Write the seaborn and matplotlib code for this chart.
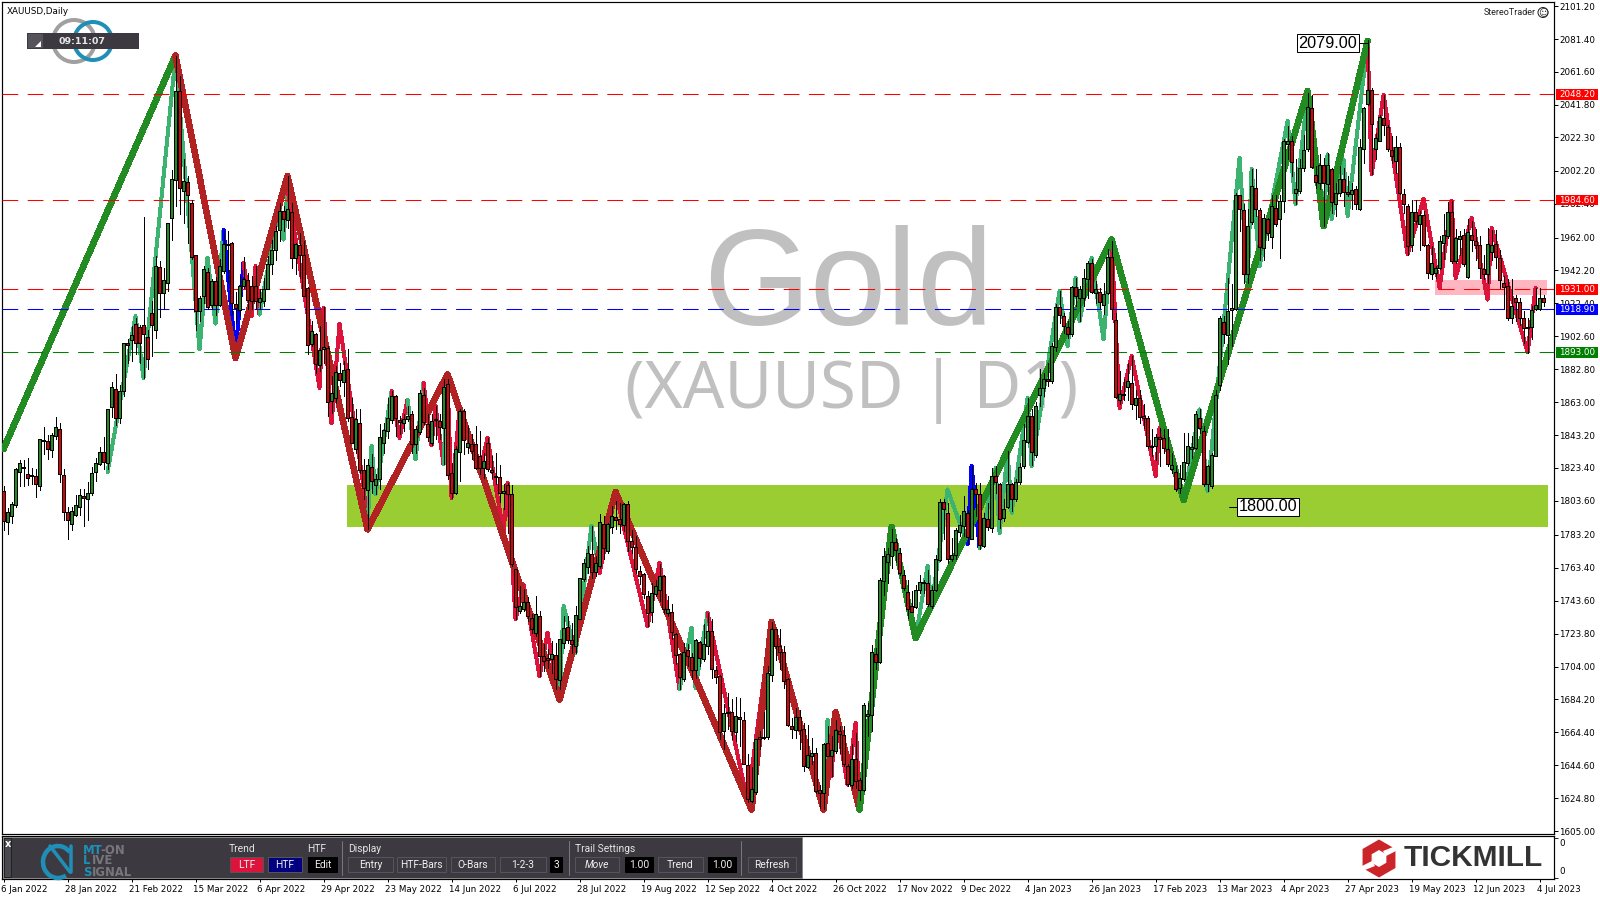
import numpy as np
import matplotlib
matplotlib.use("Agg")
import matplotlib.pyplot as plt
import matplotlib.transforms as mtrans
from matplotlib.patches import Rectangle, RegularPolygon, Polygon, Arc, Circle
import seaborn as sns

# ---------------- candle data (USD) ----------------
opens = [
1809.4,1791,1794.4,1801,1821,1824,1819.7,1819.3,1818.7,1812.7,
1840.4,1839.7,1834.3,1842.8,1847,1819.3,1797,1789.8,1795.2,1800,
1806.6,1804.8,1808.2,1821,1825.9,1833.1,1826.5,1860.2,1871,1853.6,
1869.8,1898.7,1900.3,1909.9,1908.3,1909.5,1902.3,1916.7,1906.5,1944.4,
1928.8,1934.8,1973.9,1996.9,2050,1990,1995.5,1982.9,1951.8,1917.7,
1926.9,1941.5,1921.3,1936.1,1921.3,1942,1958.2,1958.8,1922,1918.3,
1932.8,1936.6,1932.8,1933,1923.2,1923.8,1931.2,1946.2,1954.4,1966.5,
1978.1,1972.4,1977.5,1949.7,1957.7,1951.7,1931.8,1897.9,1904.1,1885.5,
1894.7,1895.7,1863.6,1865.4,1880.8,1875.2,1883,1854.2,1835,1850.6,
1822.1,1810.1,1824.1,1813.3,1816.5,1838.6,1845.6,1852.4,1866.8,1852.4,
1850.4,1853,1856,1837.6,1845.2,1867.4,1849.6,1838.6,1853,1851.8,
1847.4,1874.1,1820.1,1808.1,1833.1,1857.8,1836,1838,1838,1830.6,
1823.3,1838.2,1822.3,1818.7,1817.7,1808.1,1812.9,1807.9,1762.8,1737.5,
1738.3,1742.9,1732.9,1724.3,1734.1,1710.5,1709.3,1708.3,1710.7,1695.9,
1717.9,1727.9,1719.7,1716.3,1732.7,1756.4,1764,1771.8,1760.8,1764.4,
1789.8,1773.6,1787.8,1794.1,1792.5,1789.4,1802,1779.4,1776,1761.5,
1759.5,1746.3,1736.7,1747.7,1750.3,1758.7,1735.9,1736.9,1723.3,1711.3,
1696.3,1713.7,1709.5,1702.1,1718.5,1708.5,1716.1,1725.1,1701.7,1698.1,
1665.5,1675.9,1676.5,1664.9,1673.5,1671.9,1644.9,1622.9,1628.5,1661.3,
1660.7,1661.5,1699,1726.3,1716.2,1713,1696.6,1668.5,1666.1,1673.9,
1666.5,1643.7,1650.1,1652.1,1629.6,1628,1658.1,1650.1,1653.1,1665.1,
1662.7,1644.1,1633,1648.5,1636,1629.6,1674.1,1675.1,1711.8,1706.6,
1755.3,1766.8,1770.4,1779,1772.4,1759.1,1748.9,1740.3,1739.7,1749.9,
1754.3,1754.3,1740.3,1749.9,1768,1803,1796.4,1768.8,1770.8,1784.8,
1788.8,1796.4,1780.8,1810.9,1807.5,1776.4,1792.5,1787.4,1818.3,1813.9,
1793.1,1800,1813.9,1804.5,1814.9,1824.9,1839,1854.6,1831,1867.6,
1871.6,1877,1875.6,1896.3,1920.2,1914.8,1908.3,1904.3,1932.2,1925.6,
1925.8,1937.2,1946.8,1928.4,1929.4,1921.2,1928.8,1950.4,1912.2,1864.6,
1867.8,1872.2,1874.8,1861.4,1865.6,1854.6,1853.6,1836.6,1836.6,1841.8,
1841.6,1834.6,1822.5,1820.9,1811.5,1816.5,1826.5,1835,1835.6,1853.6,
1845.6,1813.5,1812.5,1830.9,1873.6,1911.3,1903.7,1918.7,1919.1,1987.9,
1978.3,1939.8,1971.5,1991.9,1978.5,1955.8,1972.9,1962.5,1979.9,1972.9,
1983.9,2018.4,2020.2,1989,1990,2003.6,2015,2040,1999.4,1995,
2005.4,1994,2003,1982,1989,1997,1989.6,1988,1991,1979.3,
2015.4,2042.5,2050.5,2015.4,2020.2,2034.2,2028.8,2014.6,2008,2016.6,
1988.5,1981,1957.4,1977.1,1969.9,1975.3,1957.3,1940.3,1940.5,1943.9,
1958.9,1962.9,1977.5,1947.9,1961.3,1963.3,1938.3,1963.8,1959.8,1957.4,
1943.2,1940.2,1953.2,1958.2,1949.8,1934.8,1932.8,1913.7,1925.7,1923.3,
1913.7,1908.3,1908.1,1919.1,1919.1,1925.7]

closes = [
1791.4,1797,1802,1822.5,1826.5,1823.3,1817.3,1818.5,1813.9,1841,
1839.6,1834.9,1843.4,1848.2,1819.9,1797,1792.2,1797.6,1801.2,1807.2,
1805.4,1808.4,1820.5,1826.5,1833.1,1827.1,1859,1872.2,1853.6,1869.8,
1898.7,1897.5,1903.5,1898.7,1898.7,1904.1,1889,1909.5,1945,1928.6,
1936.6,1970.9,1997.3,2050,1991.9,1996,1987.7,1950.4,1918.1,1925.7,
1942.9,1920.5,1935.9,1921.3,1945,1958.2,1957.6,1922.9,1919.4,1933,
1937.2,1924.2,1923.8,1923.8,1925.8,1931.2,1946.2,1954.4,1965.9,1978.1,
1973,1978.9,1949.7,1958,1951.7,1926.9,1897.3,1905.9,1886.1,1894.5,
1896.3,1863,1868.6,1881.2,1876.6,1882.4,1853.6,1838.6,1852.6,1822.1,
1811.3,1825.3,1815.3,1816.9,1842.2,1846.4,1853.4,1866.6,1853.6,1851.2,
1853,1854.8,1838,1847,1868.6,1851,1842,1851.8,1852.2,1848.2,
1871.9,1819.1,1808.3,1834.6,1857.8,1840.4,1838.6,1833.6,1823.5,1823.3,
1827.7,1822.5,1820.9,1817.9,1808.1,1809.3,1807.7,1765.4,1739.8,1740.5,
1742.9,1734.3,1726.7,1735.7,1710.3,1707.1,1708.1,1711.7,1696.3,1720.3,
1727.3,1719.7,1717.5,1734.9,1757,1766.4,1772.4,1760.8,1766.4,1791,
1775,1790,1794.7,1792.1,1789.9,1802,1779.4,1776,1762.8,1758.5,
1747.7,1736.3,1748.3,1752.3,1758.3,1738.3,1738.3,1724.9,1710.9,1697.7,
1712.9,1710.5,1702.1,1719.7,1709.1,1717.5,1725.1,1702.5,1697.7,1664.9,
1675.9,1676.5,1665.5,1674.1,1672.3,1645.5,1624.5,1630.1,1660.4,1660.1,
1661.5,1700.2,1726.7,1716.2,1712.6,1695.2,1668.7,1666.3,1673.9,1666.1,
1644.4,1650.7,1652.1,1629,1628,1657.5,1650.1,1653.5,1665.9,1663.1,
1645.1,1633.6,1648.5,1635,1629.6,1681.1,1675.5,1712.8,1706.6,1756.3,
1770.6,1771.8,1779,1774.2,1760.3,1751.3,1738.7,1736.7,1750.1,1754.9,
1754.9,1741.7,1750.1,1768.8,1803,1798.8,1768.4,1771.2,1786.4,1789.4,
1797.4,1781.8,1810.9,1807.9,1776.8,1793.5,1787.9,1818.3,1814.9,1792.9,
1798.9,1813.9,1804.9,1815.1,1824.1,1840.3,1854.6,1833.2,1860.6,1871.4,
1877,1875.6,1896.7,1920.2,1915.4,1908.9,1904.1,1932.2,1926.8,1931.2,
1937.8,1946.8,1929.2,1930.8,1923.2,1928.2,1950.4,1919.2,1866.1,1868.2,
1867.2,1875.6,1861.6,1865.6,1854.2,1853.4,1836.6,1836,1842.2,1841,
1835.6,1825.9,1825.5,1810.9,1817.5,1827.1,1836.6,1836.2,1855.6,1847.6,
1813.5,1824.9,1831.5,1867.6,1913.7,1904.1,1917.7,1919.7,1987.9,1979.3,
1940.2,1968.9,1992.9,1978.9,1956.4,1973.9,1964.9,1980.9,1969.9,1983.9,
2020,2020,2007.4,1991.4,2004,2014.6,2040.4,2004.4,1995.4,2005.4,
1995,2005.4,1983.3,1989,1997,1989.4,1988.2,1990.4,1982.3,2016.6,
2040,2050.5,2030.6,2021.6,2034.6,2029.6,2015,2011,2016.6,1989,
1982.3,1957,1977.5,1971.9,1975.3,1957.3,1940.5,1946.9,1943.5,1959.7,
1963.3,1977.5,1947.9,1961.9,1962.9,1945.9,1965.4,1960.4,1957.4,1943.8,
1940.2,1958.2,1957.8,1950.2,1936.2,1932.4,1913.7,1920.7,1923.1,1913.7,
1907.7,1907.5,1918.7,1921.5,1925.7,1923.5]

highs = [
1812.5,1799.4,1802.8,1823.5,1828.5,1828.5,1829.5,1823.5,1822.5,1841,
1848.2,1843.4,1844.2,1854.2,1850.6,1822.5,1800,1800,1807.4,1810.7,
1810.5,1814.9,1824.1,1829.5,1836.1,1842.1,1859,1875,1880.2,1873.4,
1898.7,1900.7,1908.7,1913.7,1909.7,1974.5,1906.3,1923.7,1950.8,1947.8,
1943.8,1970.9,2002.9,2071,2059,2009,1999.3,1984.9,1951.8,1927,
1944.9,1943.9,1936.9,1938.5,1948.9,1965.9,1965.9,1959.2,1929.2,1938.8,
1950.4,1940.4,1938.8,1944.9,1930.8,1937.9,1950.8,1960.8,1968.9,1982.9,
1981,1999,1982.5,1958.8,1964.9,1959.9,1932.4,1911.7,1904.7,1908.7,
1920.1,1896.7,1878.6,1884.6,1886.6,1887.6,1894.7,1865.6,1858.6,1859,
1829,1829.1,1831.6,1819.5,1849.6,1850.6,1865.6,1869.6,1867.6,1854.6,
1855.6,1860.6,1857.6,1848.6,1870.6,1871.6,1855.6,1855.6,1860.6,1855.6,
1876.7,1876.7,1826.5,1836.6,1858.6,1858.6,1848.6,1843.6,1848.6,1845.6,
1832.6,1841.6,1830.6,1832.6,1825.5,1813.5,1814.5,1812.9,1762.8,1752.4,
1750.4,1746,1735.3,1746.3,1737.3,1717.3,1714.3,1719.3,1718.3,1720.7,
1734.3,1734.3,1730.3,1740.3,1757.4,1768.4,1776.4,1788.8,1770.4,1795.5,
1794.5,1790.4,1800.5,1803.5,1802.5,1802.4,1803.5,1786,1782.4,1764.4,
1760.4,1749.3,1754.3,1756.3,1765.9,1759.3,1746.3,1741.3,1724.3,1712.3,
1718.3,1717.3,1712.3,1720.5,1719.5,1729.3,1736.3,1732.3,1704.3,1698.9,
1681.3,1688.3,1684.3,1685.7,1685.3,1676.5,1651.5,1643.3,1660.4,1665.3,
1676.5,1704.2,1730.7,1726.7,1726.3,1716.2,1697.2,1673.1,1679.1,1678.1,
1670.1,1669.1,1661.1,1655.1,1633,1658.1,1668.1,1662.1,1672.1,1668.1,
1668.1,1645.1,1657.1,1664.1,1637,1682.1,1682.1,1717.2,1715.2,1757.3,
1775.4,1775.4,1786.8,1781.4,1775.4,1762.3,1756.3,1749.3,1753.3,1759.3,
1756.3,1762.3,1752.3,1770.8,1804.5,1804.5,1802.5,1781.4,1787.4,1795.4,
1806.5,1798.4,1824.9,1814.5,1814.5,1796.5,1802.5,1823.5,1824.5,1814.5,
1804.5,1833.5,1814.5,1816.5,1826.5,1849.6,1865.6,1858.6,1863,1882.7,
1880.7,1886.7,1898.7,1921.8,1929.8,1916.8,1911.8,1932.8,1937.8,1932.8,
1942.8,1947.8,1949.2,1935.8,1931.8,1934.8,1954.9,1959.9,1916.8,1881.7,
1876.7,1886.7,1890.7,1870.6,1870.6,1861.6,1854.6,1846.6,1843.6,1847.6,
1846.6,1846.6,1832.5,1824.5,1825.5,1844.6,1844.6,1842.6,1857.6,1858.6,
1848.6,1825.5,1832.5,1870.6,1914.7,1914.7,1937.7,1933.8,1988.9,1987.9,
1981.9,1978.9,2003.4,2003.4,1979.9,1975.9,1973.9,1987.9,1987.9,1987.9,
2021,2029,2023,2009,2009,2024,2049,2048,2005,2012,
2010,2013,2004,1995,2005,2004,1999,1995,1993,2021,
2040.6,2080.8,2052,2025,2036,2048,2030,2023,2023,2019,
1991,1982,1984.9,1984.9,1977.9,1977.9,1957.9,1956.9,1944.9,1962.9,
1975.9,1983.3,1983.9,1966.9,1965.9,1966.9,1972.9,1971.9,1966.9,1962.8,
1951.8,1967.8,1966.8,1966.8,1954.8,1938.8,1936.8,1936.8,1927.7,1925.7,
1917.7,1913.7,1920.7,1931.7,1931.7,1927.7]

lows = [
1786.4,1783.4,1790.4,1800,1812.5,1812.5,1812.9,1813.5,1806,1810,
1832.1,1828.9,1830.1,1840.6,1814.9,1792,1780.4,1786.4,1794.4,1795.4,
1788.8,1792.4,1807.4,1815.5,1825.5,1822.9,1822.5,1854.2,1849.4,1850.6,
1866.6,1886.7,1887.7,1891.7,1886.7,1877.6,1883,1890.7,1901.7,1914.3,
1918.8,1929.8,1960.8,1980.9,1975.9,1970.8,1958.8,1949,1906.7,1912,
1922.9,1918.9,1918.9,1915.3,1920.9,1940.9,1934.9,1915.9,1910.9,1915.7,
1931.8,1918.9,1918.9,1918.9,1918.9,1920.9,1930.8,1939.9,1948.8,1959.8,
1965.9,1967.9,1943.8,1939.8,1937.8,1926.9,1891.7,1896.7,1880.7,1881.7,
1886.7,1854.6,1856.6,1862.6,1872.6,1866.6,1851.6,1838.6,1832.6,1820.5,
1804.5,1786.5,1808.5,1807.5,1810.5,1832.6,1841.6,1850.6,1842.6,1843.6,
1845.6,1851.6,1832.6,1832.6,1843.6,1849.6,1839.6,1837,1840.6,1840.6,
1825.6,1816.5,1805.5,1807.5,1815.5,1831.6,1832.6,1828.6,1822.5,1819.5,
1817.5,1821.5,1817.5,1813.5,1802.9,1798.5,1784.5,1764.4,1732.3,1736.3,
1737.3,1731.3,1724.3,1722.3,1698.3,1701.3,1703.3,1700.3,1690.3,1690.3,
1715.3,1718.3,1712.3,1712.3,1732.3,1755.4,1760.4,1757.4,1758.4,1763.4,
1768.4,1772.4,1784.5,1786.5,1784.5,1785.4,1773.4,1772.4,1760.4,1753.4,
1745.3,1728.3,1730.7,1746.3,1743.3,1736.3,1734.3,1720.3,1705.3,1690.3,
1695.3,1704.3,1696.3,1697.3,1704.3,1707.3,1711.3,1697.3,1694.3,1660.3,
1654.3,1666.3,1660.3,1659.3,1656.3,1645.5,1622.5,1622.5,1627.5,1654.3,
1660.3,1660.3,1695.2,1708.2,1702.2,1691.2,1668.1,1661.1,1661.1,1654.1,
1641.1,1643.1,1645.1,1628,1619,1618,1650.1,1638,1652.1,1652.1,
1644.1,1632,1631,1631,1624,1629,1662.1,1665.1,1702.2,1706.2,
1747.3,1754.3,1763.4,1766.8,1759.3,1750.3,1733.3,1736.7,1739.3,1748.3,
1748.3,1740.3,1739.3,1749.3,1767.4,1780.4,1766,1767.4,1768.4,1782.4,
1782.4,1777.4,1780.4,1794.5,1774.4,1776,1786.4,1784.8,1808.5,1787.4,
1791.5,1799.5,1797.5,1803.5,1813.5,1823.5,1838.6,1825.5,1830.2,1860.6,
1866.6,1873,1874.6,1893.7,1910.8,1904.8,1901.7,1902.7,1920.8,1911.8,
1920.8,1925.8,1928.8,1922.8,1919.8,1915.8,1927.8,1912.8,1865.6,1861.6,
1864.6,1864.6,1858.6,1852.6,1850.6,1847.6,1835.6,1830.5,1828.5,1824.5,
1832.5,1824.5,1820.5,1809.5,1808.5,1815.5,1825.5,1829.5,1834.6,1844.6,
1812.5,1809.5,1811.5,1830.5,1870.6,1898.7,1885.7,1896.7,1918.7,1965.9,
1934.8,1934.8,1969.9,1974.9,1948.8,1948.8,1960.8,1955.8,1968.9,1949.8,
1977.3,2009,1999,1981.9,1989,2002,2014,2004,1992,1991,
1969,1988,1977,1975,1987,1981,1987,1979,1979,1978.5,
2007,2042,2000,2009,2020,2024,2014,2007,2001,1988,
1977,1951.8,1953.8,1969.9,1954.4,1956.9,1937.9,1936.9,1937.9,1942.9,
1948.9,1961.9,1946.9,1946.9,1951.8,1944.9,1937.9,1953.8,1948.8,1937.8,
1936.8,1934.8,1948.8,1943.8,1931.8,1918.8,1912.7,1910.7,1911.7,1909.7,
1898.7,1892.7,1900.7,1918.7,1918.7,1920.7]

# ---------------- zigzag pivots: bar number, price, state of segment ending there ----------------
htf_bars   = [0, 43, 58, 71, 91, 111, 139, 153, 187, 192, 205, 208, 214, 222, 228, 277, 295, 326, 330, 341]
htf_prices = [1834.9, 2071.5, 1889.6, 1999, 1786.5, 1879.7, 1684.2, 1808.9, 1618, 1730.7, 1618, 1676.5, 1618,
              1788, 1721.2, 1960.9, 1804.1, 2050.1, 1969, 2080.2]
htf_states = ["", "up", "down", "down", "down", "down", "down", "down", "down", "down", "down", "down", "down",
              "up", "up", "up", "up", "up", "up", "up"]

ltf_bars = [26,33,35,43,49,51,53,55,58,60,62,63,64,69,70,71,79,80,82,84,90,91,92,93,97,99,101,103,105,107,108,110,111,
            112,114,119,121,125,126,128,130,134,136,139,140,143,147,149,153,161,164,169,172,173,176,186,192,205,206,207,
            208,211,213,214,222,228,231,232,236,241,242,244,248,249,251,252,256,257,264,266,268,269,272,275,277,279,282,
            288,289,295,299,301,309,311,312,314,321,323,326,330,331,332,335,336,341,342,345,351,355,359,362,363,367,371,
            372,381,383]
ltf_prices = [1820.9,1914.7,1877.6,2071,1894.7,1949.8,1910.3,1966.5,1892.7,1946.8,1914.7,1944.8,1915.7,1982,1960.8,1990.9,
              1871.6,1919.7,1850.2,1910.3,1812.5,1786.5,1836.6,1807.5,1869.6,1841.6,1864.6,1828.6,1874.7,1837,1860.6,
              1825.6,1876.7,1805.5,1858.6,1820.5,1841.6,1784.5,1814.5,1732.3,1753.4,1698.2,1724.3,1684.2,1740.3,1712.3,
              1788.8,1760.4,1808.5,1728.3,1766.4,1690.3,1727.3,1691.2,1736.3,1622.5,1730.7,1618,1672.1,1638,1676.5,1633,
              1670.1,1622,1788,1721.2,1764.4,1740.3,1810.5,1777.4,1824.9,1775.4,1823.5,1784.4,1833.5,1796.5,1865.6,1824.5,
              1929.8,1896.7,1937.8,1911.7,1949.8,1900.7,1959.9,1859.6,1890.7,1818.5,1847.6,1804,1858.6,1809.5,2010,1934,
              2003.4,1944.8,2032,1982,2049,1969,2012,1973,2009,1975,2080,2000,2048,1952,1985.3,1931.7,1983.9,1937.7,1973.8,
              1924.7,1967.8,1893,1931.7]
ltf_states = ["","G","G","G","G","G","G","G","B","B","R","R","R","G","G","G","R","R","R","R","R","R","G","G","G","R","R",
              "G","G","R","R","R","G","R","R","R","R","R","R","R","R","R","R","R","G","G","G","G","R","R","R","R","G","G",
              "G","R","R","R","G","G","R","R","R","R","G","G","G","G","G","G","B","B","G","G","G","G","G","G","G","G","G",
              "G","G","G","G","R","R","R","R","R","G","G","G","G","G","G","G","G","G","G","G","G","G","G","G","R","R","R",
              "R","R","R","R","R","R","R","R","R"]

# ---------------- levels and labels ----------------
level_prices = [2048.20, 1984.60, 1931.00, 1918.90, 1893.00]
level_kinds  = ["res", "res", "res", "mid", "sup"]
zone_gold = (1787.8, 1812.9)
zone_gold_bars = (85.9, 386.2)
zone_pink = (1927.7, 1936.7)
zone_pink_bars = (357.9, 385.9)
price_ticks = [2101.20,2081.40,2061.60,2041.80,2022.30,2002.20,1982.40,1962.00,1942.20,1922.40,1902.60,1882.80,1863.00,
               1843.20,1823.40,1803.60,1783.20,1763.40,1743.60,1723.80,1704.00,1684.20,1664.40,1644.60,1624.80,1605.00]
date_labels = ["6 Jan 2022","28 Jan 2022","21 Feb 2022","15 Mar 2022","6 Apr 2022","29 Apr 2022","23 May 2022",
               "14 Jun 2022","6 Jul 2022","28 Jul 2022","19 Aug 2022","12 Sep 2022","4 Oct 2022","26 Oct 2022",
               "17 Nov 2022","9 Dec 2022","4 Jan 2023","26 Jan 2023","17 Feb 2023","13 Mar 2023","4 Apr 2023",
               "27 Apr 2023","19 May 2023","12 Jun 2023","4 Jul 2023"]
date_every = 16

# ---------------- styling ----------------
sns.set_theme(style="white")
plt.rcParams["font.family"] = ["DejaVu Sans"]
W, H = 1600, 900
PX = 0.72  # one pixel in points at dpi 100
fig = plt.figure(figsize=(16, 9), dpi=100, facecolor="white")

def box(l, t, r, b):
    return [l / W, 1 - b / H, (r - l) / W, (b - t) / H]

ax = fig.add_axes(box(2, 2, 1554, 834))
ax2 = fig.add_axes(box(2, 836, 1554, 879))
top = fig.add_axes([0, 0, 1, 1], zorder=20)
top.set_xlim(0, W); top.set_ylim(H, 0); top.axis("off"); top.patch.set_alpha(0)

for a in (ax, ax2):
    a.set_facecolor("white")
    a.set_xlim(-0.375, 387.6)
    for s in a.spines.values():
        s.set_color("black"); s.set_linewidth(PX * 1.2)
ax.set_ylim(1603.25, 2103.7)

# zones
ax.add_patch(Rectangle((zone_gold_bars[0], zone_gold[0]), zone_gold_bars[1] - zone_gold_bars[0],
                       zone_gold[1] - zone_gold[0], color="#9ACD32", lw=0, zorder=1))
ax.add_patch(Rectangle((zone_pink_bars[0], zone_pink[0]), zone_pink_bars[1] - zone_pink_bars[0],
                       zone_pink[1] - zone_pink[0], color="#FFB6C1", lw=0, zorder=1))

# watermarks
ax.text(848 / W, 1 - 325 / H, "Gold", transform=fig.transFigure, family="Liberation Sans", fontsize=99,
        color="#C0C0C0", ha="center", va="baseline", zorder=2)
ax.text(852 / W, 1 - 408 / H, "(XAUUSD | D1)", transform=fig.transFigure, family="Noto Sans", fontsize=47,
        color="#C0C0C0", ha="center", va="baseline", zorder=2)

# zigzags
def zigzag(bars, prices, states, palette, width, z):
    start = 0
    for k in range(1, len(bars) + 1):
        if k == len(bars) or (k > 1 and states[k] != states[start + 1]):
            sns.lineplot(x=bars[start:k], y=prices[start:k], ax=ax, sort=False, estimator=None,
                         color=palette[states[start + 1]], linewidth=width, legend=False, zorder=z,
                         antialiased=False)
            start = k - 1

zigzag(ltf_bars, ltf_prices, ltf_states, {"G": "#3CB371", "R": "#DC143C", "B": "#0000FF"}, 3.0 * PX, 3)
zigzag(htf_bars, htf_prices, htf_states, {"up": "#228B22", "down": "#B22222"}, 5.5 * PX, 4)

# horizontal levels
kind_col = {"res": "#FF0000", "mid": "#0000FF", "sup": "#008000"}
for p, k in zip(level_prices, level_kinds):
    ax.axhline(p, color=kind_col[k], lw=PX * 1.05, dashes=(15, 9), zorder=5, snap=True)

# candles
x = np.arange(len(closes))
o, c, h, l = map(np.array, (opens, closes, highs, lows))
ax.vlines(x, l, h, color="black", lw=PX, zorder=6, antialiased=False)
ax.bar(x, np.abs(c - o), bottom=np.minimum(o, c), width=0.6,
       color=np.where(c >= o, "#228B22", "#E00000"), edgecolor="black", linewidth=PX, zorder=7, antialiased=False)

# price axis
ax.yaxis.tick_right()
ax.set_yticks(price_ticks)
ax.set_yticklabels([f"{v:.2f}" for v in price_ticks])
ax.set_xticks([])
ax.tick_params(axis="y", which="major", right=True, length=4 * PX, width=PX, pad=1, labelsize=6.3, colors="black")

# value tags
tr = mtrans.blended_transform_factory(fig.transFigure, ax.transData)
tag_fill = {"res": "#FF0000", "mid": "#0000FF", "sup": "#008000"}
for p, k in zip(level_prices, level_kinds):
    ax.add_patch(Rectangle((1556 / W, p - 3.3), 42 / W, 6.6, transform=tr, color=tag_fill[k], lw=0,
                           clip_on=False, zorder=10))
    ax.text(1577 / W, p, f"{p:.2f}", transform=tr, color="white", fontsize=6.3, ha="center", va="center",
            clip_on=False, zorder=11)

# price boxes
for bar, price, lbar0, lbar1 in [(331, 2079.0, 338.6, 341.0), (316.2, 1800.0, 306.4, 308.9)]:
    ax.plot([lbar0, lbar1], [price, price], color="black", lw=PX, zorder=8)
    ax.text(bar, price, f"{price:.2f}", family="Liberation Sans", fontsize=11.7, color="black", ha="center",
            va="center", zorder=9, bbox=dict(facecolor="white", edgecolor="black", linewidth=PX, pad=1.2))

# lower strip: dates
ax2.set_ylim(43, 0)
ax2.yaxis.tick_right()
ax2.set_yticks([2, 42])
ax2.set_yticklabels(["", ""])
ax2.tick_params(axis="y", right=True, length=4 * PX, width=PX)
xt = np.arange(len(date_labels)) * date_every
ax2.set_xticks(xt)
ax2.set_xticklabels(date_labels, ha="left")
ax2.tick_params(axis="x", bottom=True, length=3 * PX, width=PX, pad=2, labelsize=6.3, colors="black")
shift = mtrans.ScaledTranslation(-2.5 / 100, 0, fig.dpi_scale_trans)
for lab in ax2.get_xticklabels():
    lab.set_transform(lab.get_transform() + shift)
top.text(1559, 843, "0", fontsize=6.3, va="center", color="black")
top.text(1559, 872, "0", fontsize=6.3, va="center", color="black")

# ---------------- chart furniture ----------------
top.text(7, 11, "XAUUSD,Daily", fontsize=6.3, color="black", va="center")
top.text(1536, 12.5, "StereoTrader", family="Roboto", fontsize=6.5, color="#222222", va="center", ha="right")
top.add_patch(Circle((1543, 12.5), 5, fc="white", ec="#222222", lw=PX))
top.text(1543, 12.2, "\u263a", fontsize=7, ha="center", va="center", color="#222222")

# ring logo and timer
top.add_patch(Circle((74, 41), 21, fc="none", ec="#A0A0A0", lw=4 * PX))
top.add_patch(Circle((93, 41), 19, fc="none", ec="#1F8FB8", lw=4 * PX))
top.add_patch(Rectangle((27, 33), 112, 16, fc="#3C3A40", ec="none"))
top.add_patch(Rectangle((28, 34), 15, 14, fc="#55535A", ec="none"))
top.add_patch(Polygon([(35, 46.5), (41, 46.5), (41, 41)], fc="white", ec="none"))
top.text(82, 41, "09:11:07", fontsize=6.8, fontweight="bold", color="#E8E8E8", ha="center", va="center")

# control panel
PANEL = "#3C3A40"
top.add_patch(Rectangle((3, 837), 799, 41, fc=PANEL, ec="#888888", lw=PX))
top.add_patch(Rectangle((4, 838), 7, 39, fc="#4A484F", ec="#222222", lw=PX))
top.text(7.5, 844, "x", color="white", fontsize=7, fontweight="bold", ha="center", va="center")
top.add_patch(Arc((58, 862), 30, 32, theta1=60, theta2=320, ec="#1F8FB8", lw=4.5 * PX))
top.plot([50, 70], [846, 872], color="#1F8FB8", lw=3.5 * PX)
top.plot([71, 71], [846, 872], color="#1F8FB8", lw=3.5 * PX)
for tx, ty, s, col in [(83, 850, "MT", "#1F8FB8"), (100, 850, "-ON", "#77767C"), (83, 861, "L", "#1F8FB8"),
                       (92, 861, "IVE", "#77767C"), (83, 872, "S", "#1F8FB8"), (92, 872, "IGNAL", "#77767C")]:
    top.text(tx, ty, s, color=col, fontsize=8.4, fontweight="bold", va="center", family="DejaVu Sans")

label_font = dict(family="Roboto", fontsize=7.4, color="#E4E4E4", va="center")
for tx, s in [(229, "Trend"), (307, "HTF"), (348, "Display"), (575, "Trail Settings")]:
    top.text(tx, 849, s, **label_font)
for sx in (342, 569, 741):
    top.plot([sx, sx], [841, 875], color="#77767C", lw=PX)

def button(x0, x1, s, fc, ec="#55545A", italic=False):
    top.add_patch(Rectangle((x0, 857), x1 - x0, 15, fc=fc, ec=ec, lw=PX))
    top.text((x0 + x1) / 2, 864.8, s, family="Roboto", fontsize=7.4, color="#F0F0F0", ha="center", va="center",
             style="italic" if italic else "normal")

button(230, 263, "LTF", "#DC143C")
button(268, 302, "HTF", "#000080")
button(308, 337, "Edit", "#000000", ec="#000000")
button(348, 393, "Entry", PANEL)
button(397, 446, "HTF-Bars", PANEL)
button(451, 495, "O-Bars", PANEL)
button(500, 546, "1-2-3", PANEL)
button(550, 562, "3", "#000000", ec="#000000")
button(575, 619, "Move", PANEL, italic=True)
button(625, 653, "1.00", "#000000", ec="#000000")
button(658, 703, "Trend", PANEL)
button(708, 736, "1.00", "#000000", ec="#000000")
button(748, 796, "Refresh", PANEL)

# brand mark
top.add_patch(RegularPolygon((1379, 858.5), 6, radius=19, fc="#CB2529", ec="none"))
top.add_patch(RegularPolygon((1379, 858.5), 6, radius=8.5, fc="white", ec="none"))
top.add_patch(Polygon([(1383, 851), (1398, 845), (1398, 850), (1386, 856)], fc="white", ec="none"))
top.add_patch(Polygon([(1375, 866), (1360, 872), (1360, 867), (1372, 861)], fc="white", ec="none"))
top.text(1404, 858.5, "TICKMILL", family="Liberation Sans", fontweight="bold", fontsize=21.5, color="#333333",
         va="center", ha="left")

fig.savefig("out.png", dpi=100, facecolor="white")
